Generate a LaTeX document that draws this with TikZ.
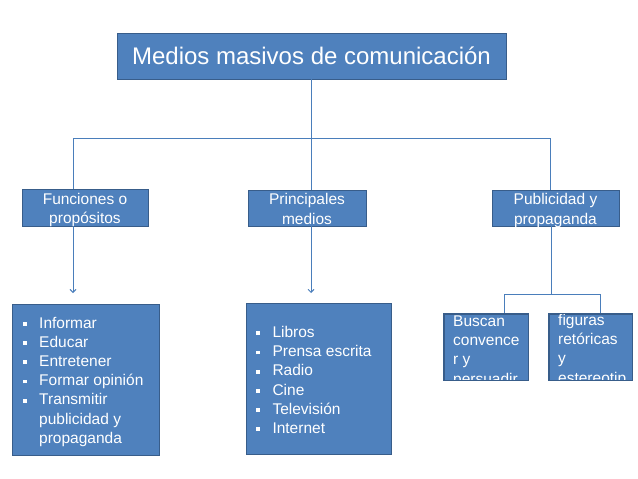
\documentclass[tikz,border=0pt]{standalone}
\usepackage{fontspec}
\setmainfont{Liberation Sans}
\usetikzlibrary{arrows.meta}
\definecolor{boxfill}{HTML}{4F81BD}
\definecolor{boxline}{HTML}{385D8A}
\definecolor{conncol}{HTML}{4A7EBB}
\newcommand\sqb{\makebox[16.3pt][l]{\rule[2.3pt]{3.6pt}{3.8pt}}}
\newcommand\indt{\hspace*{16.3pt}}
\newcommand\twol[2]{\raisebox{-6pt}[0pt][0pt]{\begin{tabular}{@{}c@{}}#1\\ #2\end{tabular}}}
\begin{document}
\begin{tikzpicture}[x=1pt,y=-1pt,
 box/.style={draw=boxline,fill=boxfill,line width=0.9pt,inner sep=0pt,text=white},
 lvl/.style={box,font=\fontsize{15.5}{19.5}\selectfont},
 txt/.style={inner sep=0pt,anchor=base west,text=white,font=\fontsize{15.5}{19.2}\selectfont},
 conn/.style={draw=conncol,line width=0.9pt},
 arr/.style={conn,-{Straight Barb[length=3pt,width=6pt]}}]
\fill[white] (0,0) rectangle (638,479);
\useasboundingbox (0,0) rectangle (638,479);
\node[box,minimum width=389pt,minimum height=46pt,font=\fontsize{24}{28}\selectfont] (title) at (311.5,56) {Medios masivos de comunicación};
\node[lvl,minimum width=126pt,minimum height=37pt] (fun) at (85,207.5) {\twol{Funciones o}{propósitos}};
\node[lvl,minimum width=118pt,minimum height=36pt] (pri) at (307,208) {\twol{Principales}{medios}};
\node[lvl,minimum width=127pt,minimum height=36pt] (pub) at (555.5,208) {\twol{Publicidad y}{propaganda}};
\coordinate (j) at (311,138);
\coordinate (jL) at (73,138);
\coordinate (jR) at (550,138);
\draw[conn] (title.south) -- (title.south |- j);
\draw[conn] (jL) -- (jR);
\draw[conn] (jL) -- (jL |- fun.north);
\draw[conn] (j) -- (j |- pri.north);
\draw[conn] (jR) -- (jR |- pub.north);
\node[box,minimum width=147pt,minimum height=151pt] (l1) at (85.5,379.5) {};
\node[box,minimum width=145pt,minimum height=151pt] (l2) at (318.5,378.5) {};
\node[box,minimum width=84pt,minimum height=66pt] (b1) at (486,347) {};
\node[box,minimum width=83pt,minimum height=66pt] (b2) at (590.5,347) {};
\coordinate (a1) at (73,293);
\coordinate (a2) at (311,293);
\draw[arr] (a1 |- fun.south) -- (a1);
\draw[arr] (a2 |- pri.south) -- (a2);
\coordinate (k) at (551,294);
\coordinate (kL) at (504,294);
\coordinate (kR) at (600,294);
\draw[conn] (k |- pub.south) -- (k);
\draw[conn] (kL) -- (kR);
\draw[conn] (kL) -- (kL |- b1.north);
\draw[conn] (kR) -- (kR |- b2.north);
\node[txt] (t1) at (22.7,328) {\begin{tabular}[t]{@{}l@{}}\sqb Informar\\ \sqb Educar\\ \sqb Entretener\\ \sqb Formar opinión\\ \sqb Transmitir\\ \indt publicidad y\\ \indt propaganda\end{tabular}};
\node[txt] (t2) at (256,337.5) {\begin{tabular}[t]{@{}l@{}}\sqb Libros\\ \sqb Prensa escrita\\ \sqb Radio\\ \sqb Cine\\ \sqb Televisión\\ \sqb Internet\end{tabular}};
\begin{scope}
\clip (b1.north west) rectangle (b1.south east);
\node[txt] (t3) at (453,326.5) {\begin{tabular}[t]{@{}l@{}}Buscan\\ convence\\ r y\\ persuadir\end{tabular}};
\end{scope}
\begin{scope}
\clip (b2.north west) rectangle (b2.south east);
\node[txt] (t4) at (558,325.5) {\begin{tabular}[t]{@{}l@{}}figuras\\ retóricas\\ y\\ estereotip\end{tabular}};
\end{scope}
\draw[draw=boxline,line width=0.9pt] (b1.north west) rectangle (b1.south east);
\draw[draw=boxline,line width=0.9pt] (b2.north west) rectangle (b2.south east);
\end{tikzpicture}
\end{document}
